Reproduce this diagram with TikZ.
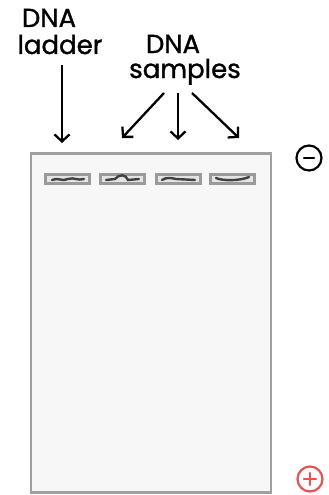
\documentclass[tikz,border=0pt]{standalone}
\usepackage{fontspec}
\setmainfont{Poppins}
\newfontfamily\handfont{Poppins}[FakeBold=1.2]
\usetikzlibrary{arrows.meta}
\definecolor{gelfill}{HTML}{F7F7F7}
\definecolor{gelrim}{HTML}{A0A0A0}
\definecolor{wellfill}{HTML}{E4E4E4}
\definecolor{wellrim}{HTML}{9A9A9A}
\definecolor{anode}{HTML}{E8524E}
\begin{document}
\begin{tikzpicture}[x=1pt,y=-1pt,
  label text/.style={font=\handfont\fontsize{26}{26}\selectfont, anchor=base, inner sep=0pt},
  pointer/.style={line width=2.3pt, -{Straight Barb[length=7pt,width=15pt,line width=2.3pt]}},
  gel/.style={draw=gelrim, fill=gelfill, line width=2.8pt},
  wellbox/.style={draw=wellrim, fill=wellfill, line width=2.2pt, minimum width=44pt, minimum height=9pt, inner sep=0pt},
  band/.style={line width=2.4pt, draw=black!75, line cap=round},
  electrode/.style={circle, line width=2.2pt, minimum size=25pt, inner sep=0pt}]
\useasboundingbox (0,0) rectangle (329,495);
% gel slab
\node[gel, minimum width=240pt, minimum height=339pt, inner sep=0pt] (slab) at (151,323) {};
% loading wells
\node[wellbox] (w1) at (67.5,179) {};
\node[wellbox] (w2) at (122.5,179) {};
\node[wellbox] (w3) at (178.5,179) {};
\node[wellbox] (w4) at (232.5,179) {};
% DNA in each well
\draw[band] (52,180) .. controls (58,177) and (62,182) .. (68,179) .. controls (74,177) and (78,181) .. (84,179);
\draw[band] (106,180) -- (115,179) .. controls (119,174) and (126,174) .. (128,180) -- (139,179);
\draw[band] (162,180) .. controls (166,177) and (172,178) .. (176,179) -- (195,180);
\draw[band] (216,178) .. controls (222,181) and (240,181) .. (249,177);
% labels
\node[label text] (ladder1) at (49,27) {DNA};
\node[label text] (ladder2) at (60,54) {ladder};
\node[label text] (samples1) at (173,53) {DNA};
\node[label text] (samples2) at (185,78) {samples};
% pointers
\coordinate (l0) at (62,65);
\draw[pointer] (l0) -- (62,143);
\coordinate (s1) at (164,93);
\coordinate (s2) at (178,93);
\coordinate (s3) at (192,93);
\draw[pointer] (s1) -- (122,138);
\draw[pointer] (s2) -- (178,140);
\draw[pointer] (s3) -- (239,138);
% electrodes
\node[electrode, draw=black] (cathode) at (309,158) {};
\draw[line width=2.4pt, line cap=round] ([xshift=-5pt]cathode.center) -- ([xshift=5pt]cathode.center);
\node[electrode, draw=anode] (anodenode) at (310,479) {};
\draw[line width=2.4pt, line cap=round, draw=anode] ([xshift=-6pt]anodenode.center) -- ([xshift=6pt]anodenode.center)
  ([yshift=-6pt]anodenode.center) -- ([yshift=6pt]anodenode.center);
\end{tikzpicture}
\end{document}
